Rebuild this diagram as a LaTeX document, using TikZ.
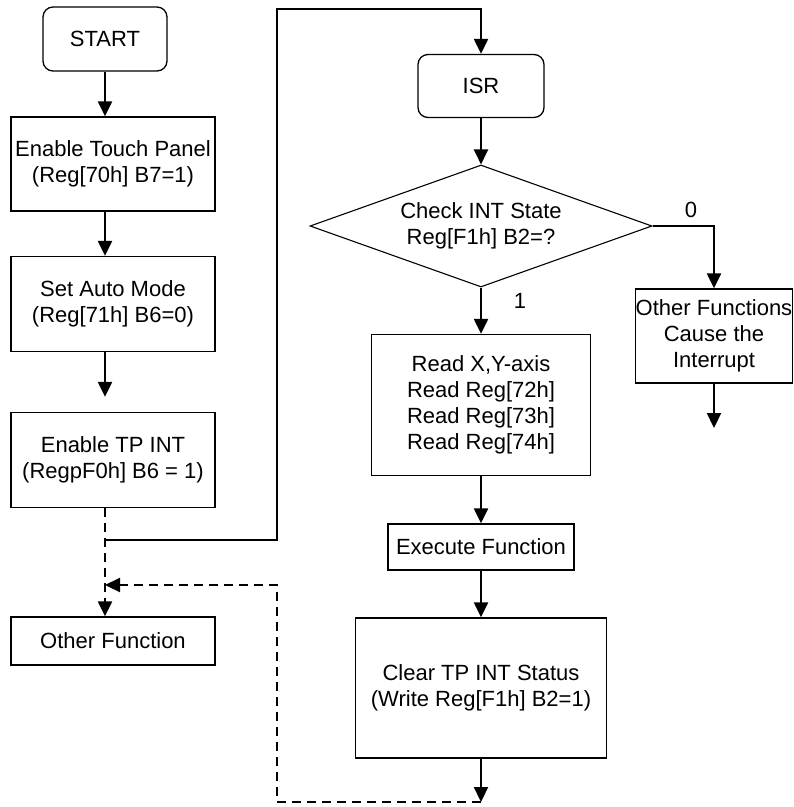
\documentclass[tikz,border=0pt]{standalone}
\usepackage{fontspec}
\setmainfont{Liberation Sans}
\usetikzlibrary{arrows.meta,shapes.geometric}

\begin{document}
\begin{tikzpicture}[x=1pt,y=-1pt,line width=1.3pt,
  font=\fontsize{22}{26}\selectfont,
  box/.style={draw,align=center,inner sep=0pt},
  rbox/.style={box,rounded corners=10pt},
  arr/.style={-{Triangle[length=15pt,width=14pt]},line width=2.2pt},
  dash line/.style={dash pattern=on 9pt off 6pt}]
\useasboundingbox (0,0) rectangle (794,807);

% main loop
\begin{scope}
\node[rbox,minimum width=124pt,minimum height=64pt] (start) at (105,39) {START};
\node[box,minimum width=204pt,minimum height=94pt] (touch) at (113,164) {Enable Touch Panel\\(Reg[70h] B7=1)};
\node[box,minimum width=204pt,minimum height=95pt] (auto) at (113,304) {Set Auto Mode\\(Reg[71h] B6=0)};
\node[box,minimum width=204pt,minimum height=95pt] (tpint) at (113,460) {Enable TP INT\\(RegpF0h] B6 = 1)};
\node[box,minimum width=204pt,minimum height=48pt] (other) at (113,641) {Other Function};

\foreach \a/\b in {start/touch,touch/auto}{%
\draw[arr] (start.south |- \a.south) -- (start.south |- \b.north);
}
\draw[arr,shorten >=15pt] (start.south |- auto.south) -- (start.south |- tpint.north);
\draw[arr,dash line] (start.south |- tpint.south) -- (start.south |- other.north);
\end{scope}

% interrupt service routine
\begin{scope}
\node[rbox,minimum width=126pt,minimum height=63pt] (isr) at (481,86) {ISR};
\node[draw,diamond,shape aspect=2.8,inner sep=0pt,line width=1.1pt,
  minimum width=342pt,minimum height=122pt,align=center] (chk) at (481,226) {Check INT State\\Reg[F1h] B2=?};
\node[box,minimum width=157pt,minimum height=94pt] (ofunc) at (714,336) {Other Functions\\Cause the\\Interrupt};
\node[box,minimum width=219pt,minimum height=141pt] (read) at (481,405) {Read X,Y-axis\\Read Reg[72h]\\Read Reg[73h]\\Read Reg[74h]};
\node[box,minimum width=186pt,minimum height=46pt] (exec) at (481,547) {Execute Function};
\node[box,minimum width=251pt,minimum height=140pt] (clr) at (481,688) {Clear TP INT Status\\(Write Reg[F1h] B2=1)};

\node (one) at (520,301) {1};
\node (zero) at (691,210) {0};

\coordinate (e) at (714,428);
\coordinate (f) at (481,802);

\draw[arr] (isr) -- (chk);
\draw[arr] (chk) -- (read);
\draw[arr] (chk.east) -| (ofunc.north);
\draw[arr] (ofunc) -- (e);
\draw[arr] (read) -- (exec);
\draw[arr] (exec) -- (clr);
\draw[arr] (clr) -- (f);
\end{scope}

% jumps between the two columns
\coordinate (j) at (105,540);
\coordinate (t) at (277,9);
\coordinate (g) at (277,585);
\coordinate (h) at (105,585);

\draw[arr] (j) -| (t) -| (isr.north);
\draw[arr,dash line] (f) -| (g) -- (h);

\end{tikzpicture}
\end{document}
